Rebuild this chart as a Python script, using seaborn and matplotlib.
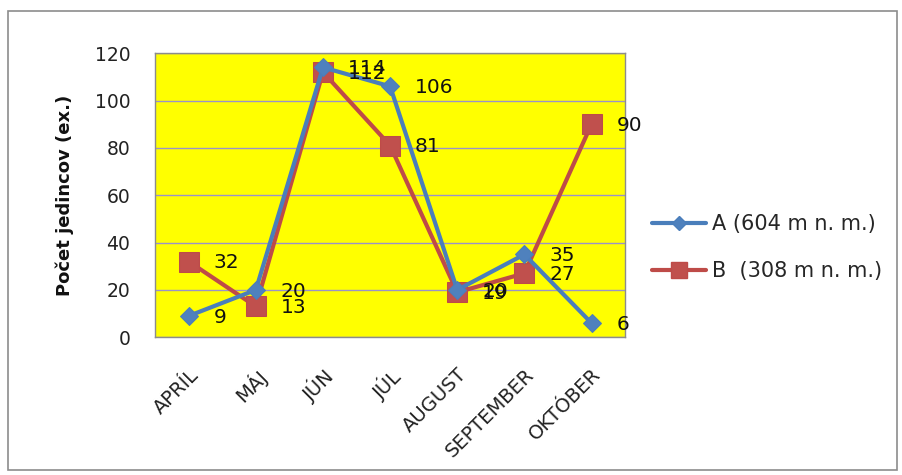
import matplotlib
matplotlib.use("Agg")
import matplotlib.pyplot as plt
from matplotlib.lines import Line2D
from matplotlib.patches import Rectangle
from matplotlib.transforms import ScaledTranslation
import pandas as pd
import seaborn as sns

months = ["APRÍL", "MÁJ", "JÚN", "JÚL", "AUGUST", "SEPTEMBER", "OKTÓBER"]
series_a = [9, 20, 114, 106, 20, 35, 6]
series_b = [32, 13, 112, 81, 19, 27, 90]
label_a = "A (604 m n. m.)"
label_b = "B  (308 m n. m.)"
y_ticks = [0, 20, 40, 60, 80, 100, 120]
y_label = "Počet jedincov (ex.)"

blue = "#4A7EBB"
red = "#BE4B48"

sns.set_theme(style="white")
plt.rcParams["font.family"] = ["DejaVu Sans"]

df = pd.DataFrame({
    "pos": list(range(len(months))) * 2,
    "count": series_a + series_b,
    "series": ["A"] * len(months) + ["B"] * len(months),
})

fig = plt.figure(figsize=(9.02, 4.75), dpi=100)
fig.patch.set_facecolor("white")
fig.patches.append(Rectangle((0.009, 0.0105), 0.9855, 0.966, transform=fig.transFigure,
                             fill=False, edgecolor="#8C8C8C", linewidth=1.2))

ax = fig.add_axes([0.172, 0.29, 0.521, 0.598])
ax.set_facecolor("#FFFF00")

# red series first so the blue line lies on top
sns.lineplot(data=df[df.series == "B"], x="pos", y="count", ax=ax, color=red,
             linewidth=3, marker="s", markersize=15, markeredgecolor=red,
             markerfacecolor="#C0504D", legend=False)
sns.lineplot(data=df[df.series == "A"], x="pos", y="count", ax=ax, color=blue,
             linewidth=3, marker="D", markersize=9.5, markeredgecolor=blue,
             markerfacecolor="#4F81BD", legend=False, zorder=3)

for vals in (series_a, series_b):
    for i, v in enumerate(vals):
        ax.annotate(str(v), (i, v), xytext=(18, -1), textcoords="offset points",
                    ha="left", va="center", fontsize=14.5, color="#111111", zorder=5)

ax.set_xlim(-0.5, len(months) - 0.5)
ax.set_ylim(0, 120)
ax.set_yticks(y_ticks)
ax.set_yticklabels([str(t) for t in y_ticks], fontsize=13.5, color="#222222")
ax.set_xticks(range(len(months)))
ax.set_xticklabels(months, rotation=45, ha="right", rotation_mode="anchor",
                   fontsize=14, color="#222222")
shift = ScaledTranslation(-4 / 100, 2 / 100, fig.dpi_scale_trans)
for lbl in ax.get_xticklabels():
    lbl.set_transform(lbl.get_transform() + shift)
ax.tick_params(axis="y", length=0, pad=18)
ax.tick_params(axis="x", length=0, pad=20)
ax.set_xlabel("")
ax.set_ylabel(y_label, fontsize=13, fontweight="bold", color="#111111", labelpad=15)
ax.grid(axis="y", color="#9A93C8", linewidth=1)
ax.set_axisbelow(True)
for s in ax.spines.values():
    s.set_color("#8C8C8C")
    s.set_linewidth(1)

handles = [
    Line2D([], [], color=blue, linewidth=3, marker="D", markersize=7, markerfacecolor="#4F81BD"),
    Line2D([], [], color=red, linewidth=3, marker="s", markersize=11, markerfacecolor="#C0504D"),
]
fig.legend(handles, [label_a, label_b], loc="center left", bbox_to_anchor=(0.723, 0.478),
           frameon=False, fontsize=15, handlelength=2.6, handletextpad=0.25,
           labelspacing=1.3, borderpad=0, borderaxespad=0)

fig.savefig("out.png", dpi=100)
